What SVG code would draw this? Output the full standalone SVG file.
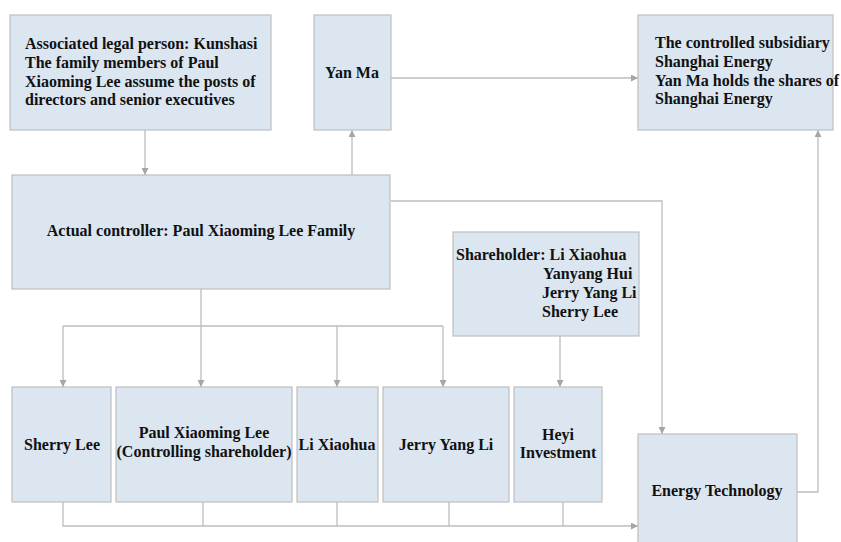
<svg xmlns="http://www.w3.org/2000/svg" width="841" height="542" viewBox="0 0 841 542">
<defs>
<marker id="ah" viewBox="0 0 10 10" refX="10" refY="5" markerWidth="7" markerHeight="7" markerUnits="userSpaceOnUse" orient="auto">
<path d="M0,0 L10,5 L0,10 z" fill="#a6a6a6"/>
</marker>
<style>
.box{fill:#dce6f1;stroke:#bfbfbf;stroke-width:1.2}
.t{font-family:"Liberation Serif","Times New Roman",serif;font-weight:bold;font-size:16px;fill:#111}
.c{text-anchor:middle}
.ln{fill:none;stroke:#bdbdbd;stroke-width:1.3}
</style>
</defs>
<rect width="841" height="542" fill="#fff"/>
<g id="connectors">
<path class="ln" d="M145,130 V175" marker-end="url(#ah)"/>
<path class="ln" d="M352,175 V130" marker-end="url(#ah)"/>
<path class="ln" d="M391,78 H638" marker-end="url(#ah)"/>
<path class="ln" d="M391,201 H662 V434" marker-end="url(#ah)"/>
<path class="ln" d="M797,492 H818 V130" marker-end="url(#ah)"/>
<path class="ln" d="M201,289 V326"/>
<path class="ln" d="M63,326 H443"/>
<path class="ln" d="M63,326 V387" marker-end="url(#ah)"/>
<path class="ln" d="M201,326 V387" marker-end="url(#ah)"/>
<path class="ln" d="M337,326 V387" marker-end="url(#ah)"/>
<path class="ln" d="M443,326 V387" marker-end="url(#ah)"/>
<path class="ln" d="M560,336 V387" marker-end="url(#ah)"/>
<path class="ln" d="M63,502 V526 H638" marker-end="url(#ah)"/>
<path class="ln" d="M203,502 V526"/>
<path class="ln" d="M337,502 V526"/>
<path class="ln" d="M449,502 V526"/>
<path class="ln" d="M563,502 V526"/>
</g>
<g id="associated">
<rect class="box" x="10" y="15" width="261" height="115"/>
<text class="t" x="25" y="49">Associated legal person: Kunshasi</text>
<text class="t" x="25" y="68">The family members of Paul</text>
<text class="t" x="25" y="87">Xiaoming Lee assume the posts of</text>
<text class="t" x="25" y="105">directors and senior executives</text>
</g>
<g id="yanma">
<rect class="box" x="314" y="15" width="77" height="115"/>
<text class="t c" x="352" y="78">Yan Ma</text>
</g>
<g id="subsidiary">
<rect class="box" x="638" y="15" width="195" height="115"/>
<text class="t" x="655" y="48">The controlled subsidiary</text>
<text class="t" x="655" y="67">Shanghai Energy</text>
<text class="t" x="655" y="86">Yan Ma holds the shares of</text>
<text class="t" x="655" y="104">Shanghai Energy</text>
</g>
<g id="controller">
<rect class="box" x="12" y="175" width="378" height="114"/>
<text class="t c" x="201" y="236">Actual controller: Paul Xiaoming Lee Family</text>
</g>
<g id="shareholder">
<rect class="box" x="453" y="232" width="186" height="104"/>
<text class="t" x="456" y="260">Shareholder: Li Xiaohua</text>
<text class="t" x="543" y="279">Yanyang Hui</text>
<text class="t" x="542" y="298">Jerry Yang Li</text>
<text class="t" x="542" y="317">Sherry Lee</text>
</g>
<g id="sherry">
<rect class="box" x="12" y="387" width="99" height="115"/>
<text class="t c" x="62" y="450">Sherry Lee</text>
</g>
<g id="paul">
<rect class="box" x="116" y="387" width="176" height="115"/>
<text class="t c" x="204" y="438">Paul Xiaoming Lee</text>
<text class="t c" x="204" y="457">(Controlling shareholder)</text>
</g>
<g id="lixiaohua">
<rect class="box" x="297" y="387" width="81" height="115"/>
<text class="t c" x="337" y="450">Li Xiaohua</text>
</g>
<g id="jerry">
<rect class="box" x="383" y="387" width="126" height="115"/>
<text class="t c" x="446" y="450">Jerry Yang Li</text>
</g>
<g id="heyi">
<rect class="box" x="514" y="387" width="88" height="115"/>
<text class="t c" x="558" y="440">Heyi</text>
<text class="t c" x="558" y="458">Investment</text>
</g>
<g id="energytech">
<rect class="box" x="638" y="434" width="159" height="115"/>
<text class="t c" x="717" y="496">Energy Technology</text>
</g>
</svg>
